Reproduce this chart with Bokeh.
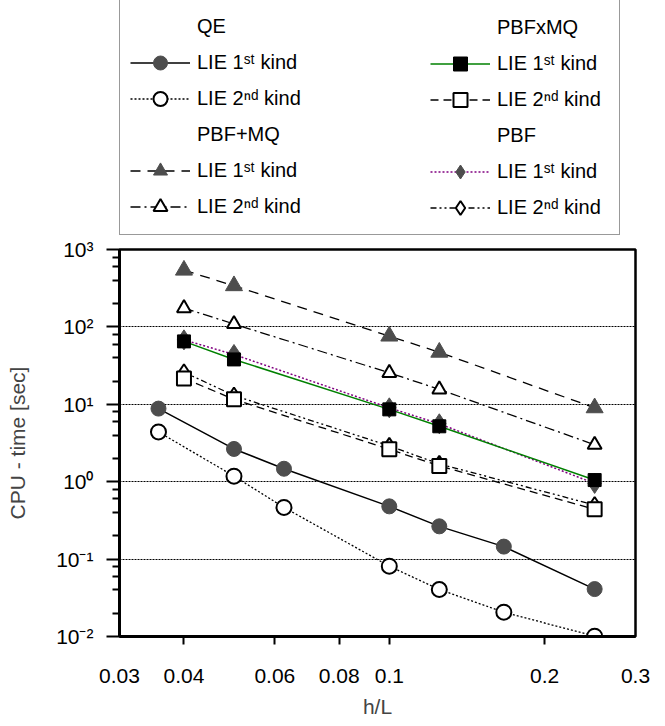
from bokeh.plotting import figure
from bokeh.layouts import column
from bokeh.models import Range1d, FixedTicker, Legend, LegendItem
from bokeh.embed import file_html
from bokeh.resources import INLINE

# ---------------- data ----------------
h_qe = [0.0357, 0.05, 0.0625, 0.1, 0.125, 0.1667, 0.25]
qe_1st = [8.8, 2.65, 1.47, 0.48, 0.265, 0.145, 0.041]
qe_2nd = [4.4, 1.18, 0.465, 0.081, 0.0405, 0.0206, 0.0101]

h = [0.04, 0.05, 0.1, 0.125, 0.25]
pbf_plus_mq_1st = [540, 340, 76, 47, 9.0]
pbf_plus_mq_2nd = [175, 109, 25.5, 15.6, 3.0]
pbfxmq_1st = [65, 38, 8.6, 5.2, 1.05]
pbfxmq_2nd = [21.6, 11.6, 2.62, 1.6, 0.44]
pbf_1st = [68, 44, 9.0, 5.6, 0.95]
pbf_2nd = [26, 13, 2.9, 1.7, 0.5]

x_ticks = [0.03, 0.04, 0.06, 0.08, 0.1, 0.2, 0.3]
x_tick_labels = ["0.03", "0.04", "0.06", "0.08", "0.1", "0.2", "0.3"]
x_minor = [0.04, 0.06, 0.08, 0.1, 0.2]
y_ticks = [0.01, 0.1, 1, 10, 100, 1000]
y_tick_labels = ["10\u207b\u00b2", "10\u207b\u00b9", "10\u2070", "10\u00b9", "10\u00b2", "10\u00b3"]
y_minor = [m * d for d in [0.01, 0.1, 1, 10, 100] for m in (2, 4, 6, 8)]
grid_ticks = [0.1, 1, 10, 100]

FIRST = "LIE 1\u02e2\u1d57 kind"
SECOND = "LIE 2\u207f\u1d48 kind"

FONT = "Liberation Sans"
GRAY = "#4d4d4d"

styles = {
    "qe1": dict(line=dict(line_color="black", line_width=1.5),
                mark=dict(marker="circle", size=15, fill_color=GRAY, line_color=GRAY)),
    "qe2": dict(line=dict(line_color="black", line_width=1.3, line_dash="2 2"),
                mark=dict(marker="circle", size=15, fill_color="white", line_color="black", line_width=2)),
    "pm1": dict(line=dict(line_color="black", line_width=1.3, line_dash="10 7"),
                mark=dict(marker="triangle", size=17, fill_color=GRAY, line_color=GRAY)),
    "pm2": dict(line=dict(line_color="black", line_width=1.3, line_dash="10 4 2 4"),
                mark=dict(marker="triangle", size=14, fill_color="white", line_color="black", line_width=2)),
    "px1": dict(line=dict(line_color="#008000", line_width=1.5),
                mark=dict(marker="square", size=13, fill_color="black", line_color="black")),
    "px2": dict(line=dict(line_color="black", line_width=1.3, line_dash="8 5"),
                mark=dict(marker="square", size=14, fill_color="white", line_color="black", line_width=2)),
    "pb1": dict(line=dict(line_color="#800080", line_width=1.5, line_dash="2 2"),
                mark=dict(marker="diamond", size=20, fill_color=GRAY, line_color=GRAY)),
    "pb2": dict(line=dict(line_color="black", line_width=1.3, line_dash="6 3 2 3 2 3"),
                mark=dict(marker="diamond", size=16, fill_color="white", line_color="black", line_width=2)),
}

series = [
    ("pm1", h, pbf_plus_mq_1st), ("pm2", h, pbf_plus_mq_2nd),
    ("pb1", h, pbf_1st), ("pb2", h, pbf_2nd),
    ("px1", h, pbfxmq_1st), ("px2", h, pbfxmq_2nd),
    ("qe1", h_qe, qe_1st), ("qe2", h_qe, qe_2nd),
]
data = {k: (xs, ys) for k, xs, ys in series}

W = 657
LEG_H = 236
MAIN_H = 490

# ---------------- main plot ----------------
p = figure(width=W, height=MAIN_H, x_axis_type="log", y_axis_type="log",
           x_range=Range1d(0.03, 0.3), y_range=Range1d(0.01, 1000),
           output_backend="svg", toolbar_location=None,
           min_border_left=119, min_border_right=W - 635,
           min_border_top=249 - LEG_H, min_border_bottom=MAIN_H - (636 - LEG_H))
p.background_fill_color = "white"
p.border_fill_color = "white"
p.outline_line_color = "black"
p.outline_line_width = 2.5

xa = p.xaxis[0]
xa.ticker = FixedTicker(ticks=x_ticks, minor_ticks=x_minor)
xa.major_label_overrides = {t: l for t, l in zip(x_ticks, x_tick_labels)}
xa.major_tick_out = 0
xa.major_tick_in = 0
xa.major_tick_line_color = None
xa.minor_tick_out = 8
xa.minor_tick_in = 0
xa.minor_tick_line_width = 2
xa.minor_tick_line_color = "black"
xa.major_label_standoff = 24
xa.major_label_text_font = FONT
xa.major_label_text_font_size = "21px"
xa.major_label_text_color = "black"
xa.axis_line_width = 3
xa.axis_line_color = "black"
xa.axis_label = "h/L"
xa.axis_label_text_font = FONT
xa.axis_label_text_font_size = "21px"
xa.axis_label_text_font_style = "normal"
xa.axis_label_standoff = 9

ya = p.yaxis[0]
ya.ticker = FixedTicker(ticks=y_ticks, minor_ticks=y_minor)
ya.major_label_overrides = {t: l for t, l in zip(y_ticks, y_tick_labels)}
ya.major_tick_out = 13
ya.major_tick_in = 0
ya.major_tick_line_width = 2
ya.minor_tick_out = 7
ya.minor_tick_in = 0
ya.minor_tick_line_width = 2
ya.major_label_standoff = 13
ya.major_label_text_font = FONT
ya.major_label_text_font_size = "21px"
ya.major_label_text_color = "black"
ya.axis_line_width = 3
ya.axis_line_color = "black"
ya.axis_label = "CPU - time [sec]"
ya.axis_label_text_font = FONT
ya.axis_label_text_font_size = "21px"
ya.axis_label_text_font_style = "normal"
ya.axis_label_standoff = 24

p.xgrid.visible = False
p.ygrid.ticker = FixedTicker(ticks=grid_ticks)
p.ygrid.grid_line_color = "black"
p.ygrid.grid_line_dash = "2 1"
p.ygrid.grid_line_width = 1

for key, xs, ys in series:
    p.line(xs, ys, **styles[key]["line"])
    p.scatter(xs, ys, **styles[key]["mark"])

# ---------------- legend panel ----------------
# the series are re-drawn here outside the visible range so that only
# their legend samples show
lf = figure(width=W, height=LEG_H, x_range=Range1d(10, 11), y_range=Range1d(10, 11),
            output_backend="svg", toolbar_location=None,
            x_axis_location=None, y_axis_location=None,
            min_border_left=119, min_border_right=W - 635,
            min_border_top=0, min_border_bottom=0, outline_line_color=None)
lf.grid.visible = False
lf.background_fill_color = "white"
lf.border_fill_color = "white"

def sample(key):
    xs, ys = data[key]
    return [lf.line(xs, ys, **styles[key]["line"]),
            lf.scatter(xs, ys, **styles[key]["mark"])]

def header(key):
    xs, ys = data[key]
    return [lf.line(xs, ys, line_alpha=0)]

common = dict(glyph_width=60, glyph_height=35, label_height=35, spacing=1,
              label_standoff=7, padding=10, margin=0,
              label_text_font=FONT, label_text_font_size="20px",
              label_text_color="black", orientation="vertical",
              border_line_width=1)

legA = Legend(items=[
    LegendItem(label="QE", renderers=header("qe1")),
    LegendItem(label=FIRST, renderers=sample("qe1")),
    LegendItem(label=SECOND, renderers=sample("qe2")),
    LegendItem(label="PBF+MQ", renderers=header("pm1")),
    LegendItem(label=FIRST, renderers=sample("pm1")),
    LegendItem(label=SECOND, renderers=sample("pm2")),
], location=(0, 1), label_width=412,
    border_line_color="#333333",
    background_fill_color="white", background_fill_alpha=1, **common)

legB = Legend(items=[
    LegendItem(label="PBFxMQ", renderers=header("px1")),
    LegendItem(label=FIRST, renderers=sample("px1")),
    LegendItem(label=SECOND, renderers=sample("px2")),
    LegendItem(label="PBF", renderers=header("pb1")),
    LegendItem(label=FIRST, renderers=sample("pb1")),
    LegendItem(label=SECOND, renderers=sample("pb2")),
], location=(301, 1), label_width=100,
    border_line_color="#333333", border_line_alpha=0,
    background_fill_color="white", background_fill_alpha=0, **common)

lf.add_layout(legA, "center")
lf.add_layout(legB, "center")

layout = column(lf, p, spacing=0)
open("out.html", "w").write(file_html(layout, INLINE))
